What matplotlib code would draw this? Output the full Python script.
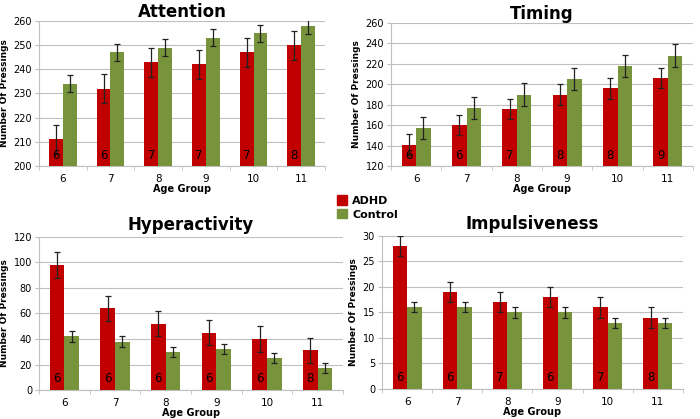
import numpy as np
import matplotlib.pyplot as plt
from matplotlib.transforms import blended_transform_factory

# data
ages = ['6', '7', '8', '9', '10', '11']

att_adhd = [211, 232, 243, 242, 247, 250]
att_adhd_err = [6, 6, 6, 6, 6, 6]
att_ctrl = [234, 247, 249, 253, 255, 258]
att_ctrl_err = [3.5, 3.5, 3.5, 3.5, 3.5, 3.5]
att_n = [6, 6, 7, 7, 7, 8]

tim_adhd = [141, 160, 176, 190, 196, 206]
tim_adhd_err = [10, 10, 10, 10, 10, 10]
tim_ctrl = [157, 177, 190, 205, 218, 228]
tim_ctrl_err = [11, 11, 11, 11, 11, 11]
tim_n = [6, 6, 7, 8, 8, 9]

hyp_adhd = [98, 64, 52, 45, 40, 31]
hyp_adhd_err = [10, 10, 10, 10, 10, 10]
hyp_ctrl = [42, 38, 30, 32, 25, 17]
hyp_ctrl_err = [4, 4, 4, 4, 4, 4]
hyp_n = [6, 6, 6, 6, 6, 8]

imp_adhd = [28, 19, 17, 18, 16, 14]
imp_adhd_err = [2, 2, 2, 2, 2, 2]
imp_ctrl = [16, 16, 15, 15, 13, 13]
imp_ctrl_err = [1, 1, 1, 1, 1, 1]
imp_n = [6, 6, 7, 6, 7, 8]

red = '#C00000'
green = '#77933C'
grid_c = '#BFBFBF'

fig = plt.figure(figsize=(7, 4.19), dpi=100)


def panel(rect, title, adhd, adhd_err, ctrl, ctrl_err, n, ylim, step, tpad=5):
    ax = fig.add_axes(rect)
    x = np.arange(len(ages))
    w = 0.29
    ax.bar(x - w / 2, adhd, w, color=red, zorder=3)
    ax.bar(x + w / 2, ctrl, w, color=green, zorder=3)
    ax.errorbar(x - w / 2, adhd, yerr=adhd_err, fmt='none', ecolor='#222222',
                elinewidth=0.9, capsize=2.2, capthick=0.9, zorder=4)
    ax.errorbar(x + w / 2, ctrl, yerr=ctrl_err, fmt='none', ecolor='#222222',
                elinewidth=0.9, capsize=2.2, capthick=0.9, zorder=4)
    # group sizes written inside the ADHD bars
    tr = blended_transform_factory(ax.transData, ax.transAxes)
    for i, v in enumerate(n):
        ax.text(i - w / 2, 0.075, str(v), transform=tr, ha='center', va='center',
                fontsize=8.5, zorder=5)
    ax.set_xlim(-0.5, len(ages) - 0.5)
    ax.set_ylim(*ylim)
    ax.set_yticks(np.arange(ylim[0], ylim[1] + step / 2, step))
    ax.set_xticks(x)
    ax.set_xticklabels(ages)
    ax.set_xticks(np.arange(-0.5, len(ages)), minor=True)
    ax.tick_params(axis='x', which='major', length=0, labelsize=7.5, pad=6)
    ax.tick_params(axis='x', which='minor', length=3, color=grid_c, direction='out')
    ax.tick_params(axis='y', length=3, color=grid_c, labelsize=7, pad=2)
    ax.yaxis.grid(True, color=grid_c, linewidth=0.8, zorder=0)
    ax.set_axisbelow(True)
    for s in ['top', 'right']:
        ax.spines[s].set_visible(False)
    for s in ['left', 'bottom']:
        ax.spines[s].set_color(grid_c)
    ax.set_title(title, fontsize=12, fontweight='bold', pad=tpad)
    ax.set_xlabel('Age Group', fontsize=7, fontweight='bold', labelpad=-0.5)
    ax.set_ylabel('Number Of Pressings', fontsize=6.5, fontweight='bold', labelpad=3)
    return ax


panel([0.0557, 0.6038, 0.4086, 0.3461], 'Attention', att_adhd, att_adhd_err,
      att_ctrl, att_ctrl_err, att_n, (200, 260), 10, tpad=2.5)
panel([0.5586, 0.6038, 0.4314, 0.3413], 'Timing', tim_adhd, tim_adhd_err,
      tim_ctrl, tim_ctrl_err, tim_n, (120, 260), 20, tpad=3)
panel([0.0557, 0.0692, 0.4343, 0.3652], 'Hyperactivity', hyp_adhd, hyp_adhd_err,
      hyp_ctrl, hyp_ctrl_err, hyp_n, (0, 120), 20)
panel([0.5457, 0.0716, 0.43, 0.3652], 'Impulsiveness', imp_adhd, imp_adhd_err,
      imp_ctrl, imp_ctrl_err, imp_n, (0, 30), 5)

# legend in the middle
handles = [plt.Rectangle((0, 0), 1, 1, color=red), plt.Rectangle((0, 0), 1, 1, color=green)]
fig.legend(handles, ['ADHD', 'Control'], loc='center', bbox_to_anchor=(0.525, 0.505),
           frameon=False, prop={'weight': 'bold', 'size': 8}, handlelength=0.9,
           handleheight=0.9, handletextpad=0.5, labelspacing=0.3)

plt.savefig('out.png', dpi=100)
